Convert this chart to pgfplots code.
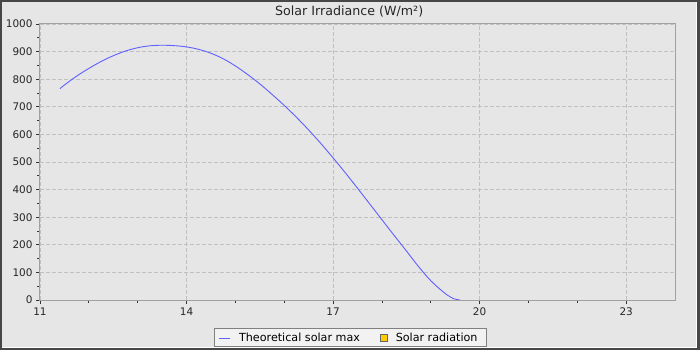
\documentclass[border=0pt]{standalone}
\usepackage{fontspec}
\setmainfont{DejaVu Sans}
\usepackage{pgfplots}
\pgfplotsset{compat=1.18}
\definecolor{bg}{HTML}{E6E6E6}
\definecolor{frame}{HTML}{474747}
\definecolor{axisgray}{HTML}{A0A0A0}
\definecolor{gridgray}{HTML}{C0C0C0}
\definecolor{lineblue}{HTML}{6060FF}
\definecolor{gold}{HTML}{FFCC00}
\begin{document}
\begin{tikzpicture}
\fill[frame] (0,0) rectangle (700bp,350bp);
\fill[white] (1.7bp,2.3bp) rectangle (697bp,348.3bp);
\fill[bg] (1.7bp,3.3bp) rectangle (696bp,348.3bp);
\node[anchor=base, font=\fontsize{12.7}{14}\selectfont, text=black!85, inner sep=0pt] at (349.2bp,334bp) {Solar Irradiance (W/m²)};
\begin{axis}[
 at={(40bp,50bp)}, anchor=south west,
 scale only axis, width=635bp, height=276bp,
 xmin=11, xmax=24, ymin=0, ymax=1000,
 xtick={11,14,17,20,23}, minor x tick num=2,
 ytick={0,100,...,1000}, minor y tick num=1,
 tick pos=left, tick align=outside,
 major tick length=4bp, minor tick length=3bp,
 every tick/.style={black!80, line width=0.8bp},
 axis line style={axisgray, line width=1bp},
 grid=major, major grid style={gridgray, dash pattern=on 4bp off 2bp, line width=0.8bp},
 tick label style={font=\fontsize{10.5}{12}\selectfont, text=black!85},
 /pgf/number format/assume math mode=true,
 /pgf/number format/1000 sep={},
 axis background/.style={fill=bg},
 legend columns=2,
 legend cell align=left,
 legend style={at={(0.489,-0.136)}, anchor=center, fill=white!95!black, draw=gray, line width=0.8bp,
   font=\fontsize{11.2}{13}\selectfont, inner xsep=4bp, inner ysep=2bp,
   /tikz/every odd column/.append style={column sep=6bp},
   /tikz/every even column/.append style={column sep=18bp}},
]
\addplot[lineblue, line width=0.9bp, smooth, tension=0.6,
  legend image code/.code={\draw[lineblue, line width=1.6bp] (0bp,-1bp) -- (11bp,-1bp);}]
coordinates {
(11.41,766) (11.5,779) (11.75,811) (12.0,839) (12.25,864) (12.5,885) (12.75,902)
(13.0,914) (13.25,921) (13.5,923) (13.75,921.5) (14.0,917) (14.25,908) (14.5,894)
(14.75,874) (15.0,848) (15.25,817) (15.5,783) (15.75,745) (16.0,705) (16.25,662)
(16.5,616) (16.75,567) (17.0,515) (17.25,461) (17.5,405) (17.75,348) (18.0,291)
(18.25,234) (18.5,178) (18.75,121) (19.0,70) (19.25,30) (19.4,11) (19.5,3) (19.6,0)
};
\addlegendentry{Theoretical solar max}
\addlegendimage{legend image code/.code={\draw[draw=gray!80!black, fill=gold, line width=0.8bp] (1bp,-3.5bp) rectangle (8bp,3.5bp);}}
\addlegendentry{Solar radiation\hspace*{3bp}}
\end{axis}
\end{tikzpicture}
\end{document}
